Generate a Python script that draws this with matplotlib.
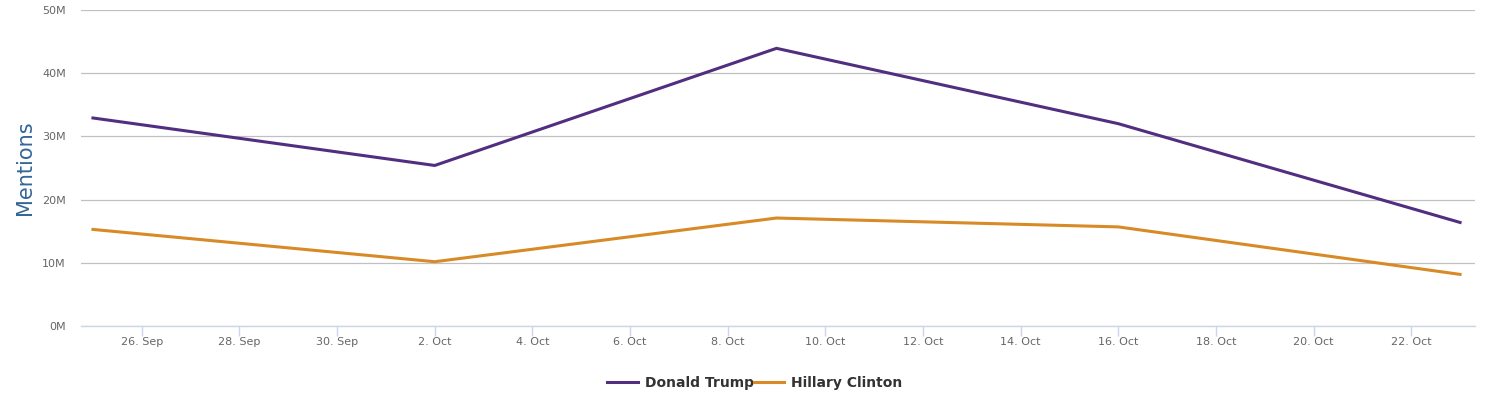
import matplotlib
matplotlib.use("Agg")
import matplotlib.pyplot as plt
import datetime as dt

dates = ["2016-09-25", "2016-10-02", "2016-10-09", "2016-10-16", "2016-10-23"]
trump = [32.9, 25.4, 43.9, 32.0, 16.4]
clinton = [15.3, 10.2, 17.1, 15.7, 8.2]
series_names = ["Donald Trump", "Hillary Clinton"]
colors = ["#522e80", "#d88a27"]

x = [dt.datetime.strptime(d, "%Y-%m-%d") for d in dates]

fig = plt.figure(figsize=(14.85, 4.0), dpi=100)
ax = fig.add_axes([81/1485, 1-326.3/400, (1475-81)/1485, (326.3-9.7)/400])

ax.plot(x, trump, color=colors[0], lw=2.2, label=series_names[0], solid_joinstyle="miter")
ax.plot(x, clinton, color=colors[1], lw=2.2, label=series_names[1], solid_joinstyle="miter")

ax.set_ylim(0, 50)
ax.set_yticks([0, 10, 20, 30, 40, 50])
ax.set_yticklabels([f"{v}M" for v in [0, 10, 20, 30, 40, 50]])
x0 = x[0] - dt.timedelta(days=12/49)
x1 = x[-1] + dt.timedelta(days=15/49)
ax.set_xlim(x0, x1)

ticks = [dt.datetime(2016, 9, 26) + dt.timedelta(days=2*i) for i in range(14)]
ax.set_xticks(ticks)
ax.set_xticklabels([f"{t.day}. {t.strftime('%b')}" for t in ticks])

ax.grid(axis="y", color="#c0c0c0", lw=0.9)
ax.set_axisbelow(True)
for s in ["top", "right", "left"]:
    ax.spines[s].set_visible(False)
ax.spines["bottom"].set_color("#ccd6eb")
ax.spines["bottom"].set_linewidth(1)
ax.tick_params(axis="y", length=0, labelsize=8, labelcolor="#666666", pad=11)
ax.tick_params(axis="x", length=7, width=1, color="#ccd6eb", labelsize=8, labelcolor="#666666", pad=0.5)

ax.set_ylabel("Mentions", fontsize=15, color="#336699", labelpad=5)

leg = fig.legend(loc="center", bbox_to_anchor=(755/1485, 1-383/400), ncol=2, frameon=False,
                 prop={"size": 10, "weight": "bold"}, handlelength=2.2, columnspacing=0.0,
                 handletextpad=0.5)
for t in leg.get_texts():
    t.set_color("#333333")

fig.savefig("out.png", dpi=100)
